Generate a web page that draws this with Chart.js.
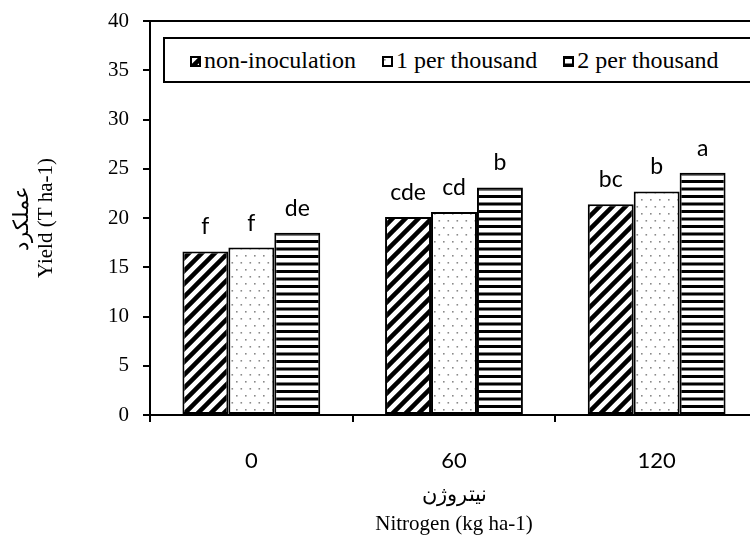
<!DOCTYPE html>
<html>
<head>
<meta charset="utf-8">
<script src="https://cdn.jsdelivr.net/npm/chart.js@4.4.1/dist/chart.umd.min.js"></script>
<style>
  html, body { margin: 0; padding: 0; background: #fff; overflow: hidden; }
  #wrap { position: relative; width: 750px; height: 535px; overflow: hidden; }
  #yieldChart { position: absolute; left: 0; top: 0; }
  #legendBox {
    position: absolute; left: 163px; top: 37px; width: 578px; height: 42px;
    border: 2px solid #000; background: #fff;
    display: flex; align-items: center; padding-left: 25px; box-sizing: content-box;
    font-family: "Liberation Serif", "Times New Roman", serif; font-size: 24px; color: #000;
  }
  #legendBox .item { display: flex; align-items: center; margin-right: 26px; }
  #legendBox canvas { margin-right: 3px; margin-top: 2px; }
</style>
</head>
<body>
<div id="wrap">
  <canvas id="yieldChart" width="758" height="535"></canvas>
  <div id="legendBox"></div>
</div>
<script>
// nitrogen levels (kg ha-1)
const categories = ['0', '60', '120'];
const seriesNames = ['non-inoculation', '1 per thousand', '2 per thousand'];

// yield (T ha-1)
const nonInoculation = [16.6, 20.1, 21.4];
const onePerThousand = [17.0, 20.6, 22.7];
const twoPerThousand = [18.5, 23.1, 24.6];

// mean comparison letters
const lettersNon = ['f', 'cde', 'bc'];
const lettersOne = ['f', 'cd', 'b'];
const lettersTwo = ['de', 'b', 'a'];

const yMin = 0, yMax = 40, yStep = 5;

// ---- fill patterns ----
function makePattern(kind) {
    const c = document.createElement('canvas');
    let g;
    if (kind === 'hatch') {
        const s = 13;
        c.width = s; c.height = s;
        g = c.getContext('2d');
        g.fillStyle = '#fff'; g.fillRect(0, 0, s, s);
        g.strokeStyle = '#000'; g.lineWidth = 4.5;
        g.beginPath();
        g.moveTo(-s / 2, s / 2); g.lineTo(s / 2, -s / 2);
        g.moveTo(0, s); g.lineTo(s, 0);
        g.moveTo(s / 2, s * 1.5); g.lineTo(s * 1.5, s / 2);
        g.stroke();
    } else if (kind === 'dots') {
        c.width = 9; c.height = 14;
        g = c.getContext('2d');
        g.fillStyle = '#fff'; g.fillRect(0, 0, 9, 14);
        g.fillStyle = '#8a8a8a';
        g.fillRect(2, 3, 1.6, 1.6);
        g.fillRect(6.5, 10, 1.6, 1.6);
    } else {
        c.width = 4; c.height = 15;
        g = c.getContext('2d');
        g.fillStyle = '#fff'; g.fillRect(0, 0, 4, 15);
        g.fillStyle = '#000';
        g.fillRect(0, 0, 4, 3);
        g.fillRect(0, 7.5, 4, 3);
    }
    return document.createElement('canvas').getContext('2d').createPattern(c, 'repeat');
}
const patternKinds = ['hatch', 'dots', 'stripes'];
const patterns = patternKinds.map(makePattern);

// letters above the bars
const letterLabels = {
    id: 'letterLabels',
    afterDatasetsDraw(chart) {
        const ctx = chart.ctx;
        const sets = [lettersNon, lettersOne, lettersTwo];
        ctx.save();
        ctx.font = '23px Lato';
        ctx.fillStyle = '#000';
        ctx.textAlign = 'center';
        ctx.textBaseline = 'alphabetic';
        chart.data.datasets.forEach((ds, i) => {
            chart.getDatasetMeta(i).data.forEach((bar, j) => {
                ctx.fillText(sets[i][j], bar.x, bar.y - 17);
            });
        });
        ctx.restore();
    }
};

const ctx = document.getElementById('yieldChart').getContext('2d');

const yieldChart = new Chart(ctx, {
    type: 'bar',
    data: {
        labels: categories,
        datasets: [
            { label: seriesNames[0], data: nonInoculation, backgroundColor: patterns[0] },
            { label: seriesNames[1], data: onePerThousand, backgroundColor: patterns[1] },
            { label: seriesNames[2], data: twoPerThousand, backgroundColor: patterns[2] }
        ].map(d => Object.assign(d, {
            borderColor: '#000',
            borderWidth: 2,
            borderSkipped: false,
            barPercentage: 1.0,
            categoryPercentage: 0.68
        }))
    },
    options: {
        responsive: false,
        animation: false,
        layout: { padding: { top: 21, left: 0, right: 0, bottom: 0 } },
        scales: {
            x: {
                grid: { display: true, drawOnChartArea: false, color: '#000', tickColor: '#000', tickLength: 7, lineWidth: 2 },
                border: { color: '#000', width: 2 },
                ticks: { color: '#000', font: { family: 'Lato', size: 22 }, padding: 26 },
                title: {
                    display: true,
                    text: ['نیتروژن', 'Nitrogen (kg ha-1)'],
                    color: '#000',
                    font: { family: 'Liberation Serif', size: 21, lineHeight: 29 / 21 },
                    padding: { top: 0, bottom: -3.5 }
                },
                afterFit(scale) {
                    scale.height = 120;
                    scale.paddingLeft = 0;
                    scale.paddingRight = 0;
                }
            },
            y: {
                min: yMin,
                max: yMax,
                grid: {
                    color: c => c.tick && c.tick.value === yMax ? '#000' : 'rgba(0,0,0,0)',
                    tickColor: '#000',
                    tickLength: 7,
                    lineWidth: 2
                },
                border: { color: '#000', width: 2 },
                ticks: {
                    stepSize: yStep,
                    color: '#000',
                    font: { family: 'Liberation Serif', size: 21 },
                    padding: 14
                },
                title: {
                    display: true,
                    text: ['عملکرد', 'Yield (T ha-1)'],
                    color: '#000',
                    font: { family: 'Liberation Serif', size: 21, lineHeight: 24 / 21 },
                    padding: { top: 10, bottom: 0 }
                },
                afterFit(scale) {
                    scale.width = 150;
                    scale.paddingTop = 0;
                    scale.paddingBottom = 0;
                }
            }
        },
        plugins: {
            legend: { display: false },
            tooltip: { enabled: false }
        }
    },
    plugins: [letterLabels]
});

// html legend built from the chart's datasets
const legendBox = document.getElementById('legendBox');
yieldChart.data.datasets.forEach((ds, i) => {
    const item = document.createElement('div');
    item.className = 'item';
    const sw = document.createElement('canvas');
    sw.width = 11; sw.height = 11;
    const g = sw.getContext('2d');
    g.fillStyle = patterns[i];
    g.fillRect(0, 0, 11, 11);
    g.strokeStyle = '#000';
    g.lineWidth = 2;
    g.strokeRect(1, 1, 9, 9);
    const txt = document.createElement('span');
    txt.textContent = ds.label;
    item.appendChild(sw);
    item.appendChild(txt);
    legendBox.appendChild(item);
});
</script>
</body>
</html>
